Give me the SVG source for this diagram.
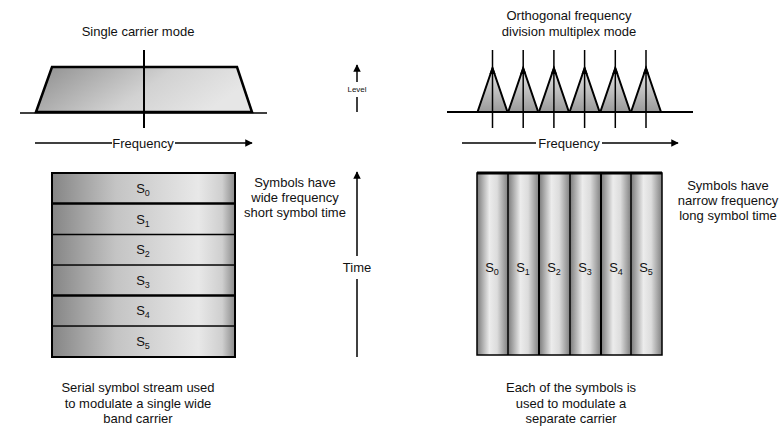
<svg xmlns="http://www.w3.org/2000/svg" width="779" height="435" viewBox="0 0 779 435">
<style>
text{font-family:"Liberation Sans",Arial,sans-serif;fill:#111;font-size:13px;text-anchor:middle}
.sub{font-size:9px}
.ln{stroke:#000;fill:none}
.ax{stroke:#000;stroke-width:1.5;fill:none}
</style>
<defs>
<linearGradient id="gTrap" x1="0" y1="0" x2="1" y2="0.3">
<stop offset="0" stop-color="#8e8e8e"/><stop offset="0.6" stop-color="#d2d2d2"/><stop offset="1" stop-color="#e6e6e6"/>
</linearGradient>
<linearGradient id="gTri" x1="0" y1="0" x2="0" y2="1">
<stop offset="0" stop-color="#e8e8e8"/><stop offset="1" stop-color="#9a9a9a"/>
</linearGradient>
<linearGradient id="gRow" x1="0" y1="0" x2="1" y2="0">
<stop offset="0" stop-color="#858585"/><stop offset="0.35" stop-color="#c4c4c4"/><stop offset="0.8" stop-color="#e8e8e8"/><stop offset="0.93" stop-color="#cfcfcf"/><stop offset="1" stop-color="#8a8a8a"/>
</linearGradient>
<linearGradient id="gCol" x1="0" y1="0" x2="1" y2="0">
<stop offset="0" stop-color="#7a7a7a"/><stop offset="0.4" stop-color="#ececec"/><stop offset="0.65" stop-color="#dcdcdc"/><stop offset="1" stop-color="#808080"/>
</linearGradient>
<marker id="ah" viewBox="0 0 10 10" refX="9" refY="5" markerWidth="5" markerHeight="5" orient="auto" markerUnits="strokeWidth">
<path d="M0,0 L10,5 L0,10 z" fill="#000"/>
</marker>
</defs>
<rect width="779" height="435" fill="#fff"/>

<g id="single-carrier-spectrum">
<text x="138" y="36">Single carrier mode</text>
<polygon points="36,112 52,67 237,67 252,112" fill="url(#gTrap)" stroke="#000" stroke-width="2.5" stroke-linejoin="miter"/>
<line x1="20" y1="113" x2="267" y2="113" class="ln" stroke-width="1.5"/>
<line x1="144" y1="50" x2="144" y2="128" class="ln" stroke-width="2"/>
</g>

<g id="ofdm-spectrum">
<text x="569" y="20">Orthogonal frequency</text>
<text x="569" y="36">division multiplex mode</text>
<g fill="url(#gTri)" stroke="#000" stroke-width="2" stroke-linejoin="miter">
<polygon points="477.5,112 492.5,68 507.5,112"/>
<polygon points="508.2,112 523.2,68 538.2,112"/>
<polygon points="538.9,112 553.9,68 568.9,112"/>
<polygon points="569.6,112 584.6,68 599.6,112"/>
<polygon points="600.3,112 615.3,68 630.3,112"/>
<polygon points="631,112 646,68 661,112"/>
</g>
<line x1="447" y1="112" x2="693" y2="112" class="ln" stroke-width="2"/>
<g class="ln" stroke-width="1.5">
<line x1="492.5" y1="50" x2="492.5" y2="128"/>
<line x1="523.2" y1="50" x2="523.2" y2="128"/>
<line x1="553.9" y1="50" x2="553.9" y2="128"/>
<line x1="584.6" y1="50" x2="584.6" y2="128"/>
<line x1="615.3" y1="50" x2="615.3" y2="128"/>
<line x1="646" y1="50" x2="646" y2="128"/>
</g>
<g fill="#000">
<polygon points="492.5,66 489.5,74 495.5,74"/>
<polygon points="523.2,66 520.2,74 526.2,74"/>
<polygon points="553.9,66 550.9,74 556.9,74"/>
<polygon points="584.6,66 581.6,74 587.6,74"/>
<polygon points="615.3,66 612.3,74 618.3,74"/>
<polygon points="646,66 643,74 649,74"/>
</g>
</g>

<g id="serial-stack">
<rect x="52" y="173" width="183" height="30.5" fill="url(#gRow)"/>
<rect x="52" y="203.5" width="183" height="30.5" fill="url(#gRow)"/>
<rect x="52" y="234" width="183" height="30.5" fill="url(#gRow)"/>
<rect x="52" y="264.5" width="183" height="30.5" fill="url(#gRow)"/>
<rect x="52" y="295" width="183" height="30.5" fill="url(#gRow)"/>
<rect x="52" y="325.5" width="183" height="31.5" fill="url(#gRow)"/>
<g class="ln">
<line x1="52" y1="203.5" x2="235" y2="203.5" stroke-width="2.5"/>
<line x1="52" y1="234.5" x2="235" y2="234.5" stroke-width="1.5"/>
<line x1="52" y1="265" x2="235" y2="265" stroke-width="1.5"/>
<line x1="52" y1="295.5" x2="235" y2="295.5" stroke-width="2.5"/>
<line x1="52" y1="326" x2="235" y2="326" stroke-width="1.5"/>
</g>
<rect x="52" y="173" width="183" height="184" class="ln" stroke-width="2"/>
<text x="143" y="193">S<tspan class="sub" dy="3">0</tspan></text>
<text x="143" y="224">S<tspan class="sub" dy="3">1</tspan></text>
<text x="143" y="254">S<tspan class="sub" dy="3">2</tspan></text>
<text x="143" y="285">S<tspan class="sub" dy="3">3</tspan></text>
<text x="143" y="315">S<tspan class="sub" dy="3">4</tspan></text>
<text x="143" y="346">S<tspan class="sub" dy="3">5</tspan></text>
</g>

<g id="serial-note">
<text x="295" y="187">Symbols have</text>
<text x="295" y="202">wide frequency</text>
<text x="295" y="217">short symbol time</text>
</g>

<g id="parallel-stack">
<rect x="477" y="173" width="31" height="182" fill="url(#gCol)"/>
<rect x="508" y="173" width="31" height="182" fill="url(#gCol)"/>
<rect x="539" y="173" width="31" height="182" fill="url(#gCol)"/>
<rect x="570" y="173" width="31" height="182" fill="url(#gCol)"/>
<rect x="601" y="173" width="30" height="182" fill="url(#gCol)"/>
<rect x="631" y="173" width="31" height="182" fill="url(#gCol)"/>
<g class="ln">
<line x1="508" y1="173" x2="508" y2="355" stroke-width="1.5"/>
<line x1="539" y1="173" x2="539" y2="355" stroke-width="2"/>
<line x1="570" y1="173" x2="570" y2="355" stroke-width="1.5"/>
<line x1="601" y1="173" x2="601" y2="355" stroke-width="2"/>
<line x1="631" y1="173" x2="631" y2="355" stroke-width="1.5"/>
</g>
<rect x="477" y="173" width="185" height="182" class="ln" stroke-width="1.5"/>
<line x1="477" y1="173" x2="662" y2="173" class="ln" stroke-width="3"/>
<text x="492" y="272">S<tspan class="sub" dy="3">0</tspan></text>
<text x="523" y="272">S<tspan class="sub" dy="3">1</tspan></text>
<text x="554" y="272">S<tspan class="sub" dy="3">2</tspan></text>
<text x="585" y="272">S<tspan class="sub" dy="3">3</tspan></text>
<text x="616" y="272">S<tspan class="sub" dy="3">4</tspan></text>
<text x="646" y="272">S<tspan class="sub" dy="3">5</tspan></text>
</g>

<g id="parallel-note">
<text x="728" y="190">Symbols have</text>
<text x="728" y="205">narrow frequency</text>
<text x="728" y="220">long symbol time</text>
</g>

<g id="serial-caption">
<text x="138" y="392">Serial symbol stream used</text>
<text x="138" y="408">to modulate a single wide</text>
<text x="138" y="423">band carrier</text>
</g>

<g id="parallel-caption">
<text x="571" y="392">Each of the symbols is</text>
<text x="571" y="408">used to modulate a</text>
<text x="571" y="423">separate carrier</text>
</g>

<g id="connectors">
<line x1="35" y1="143" x2="112" y2="143" class="ax" stroke-width="2"/>
<line x1="175" y1="143" x2="252" y2="143" class="ax" stroke-width="2" marker-end="url(#ah)"/>
<text x="143" y="148">Frequency</text>
<line x1="462" y1="143" x2="536" y2="143" class="ax"/>
<line x1="602" y1="143" x2="678" y2="143" class="ax" marker-end="url(#ah)"/>
<text x="569" y="148">Frequency</text>
<line x1="357" y1="82" x2="357" y2="65" class="ax" marker-end="url(#ah)"/>
<line x1="357" y1="97" x2="357" y2="112" class="ax"/>
<text x="357" y="92" style="font-size:8px">Level</text>
<line x1="357" y1="256" x2="357" y2="172" class="ax" marker-end="url(#ah)"/>
<line x1="357" y1="279" x2="357" y2="357" class="ax"/>
<text x="357" y="272">Time</text>
</g>
</svg>
